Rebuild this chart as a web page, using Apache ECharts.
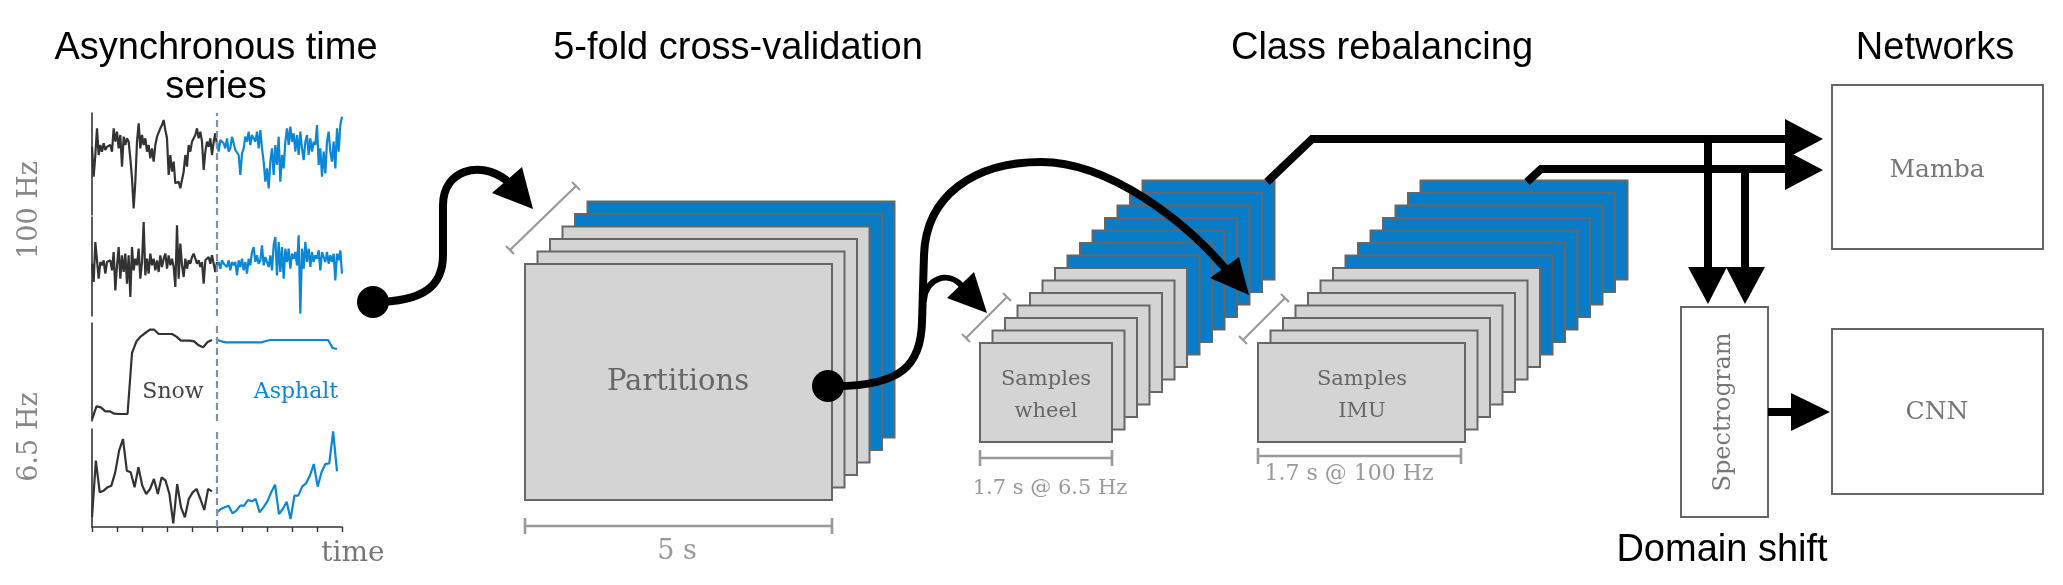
<!DOCTYPE html>
<html>
<head>
<meta charset="utf-8">
<script src="https://cdn.jsdelivr.net/npm/echarts@6/dist/echarts.min.js"></script>
<style>
  html, body { margin: 0; padding: 0; background: #fff; }
  #main { width: 2063px; height: 585px; }
</style>
</head>
<body>
<div id="main"></div>
<script>
// signal readings (arbitrary amplitude units), left half = snow, right half = asphalt
var imuA_snow = [195,105,170,250,170,200,180,205,185,195,190,200,180,250,210,240,190,230,135,225,200,220,210,160,100,10,90,210,265,190,230,200,220,180,200,160,190,150,200,225,230,250,260,275,245,220,110,170,120,150,85,80,90,70,75,120,170,135,200,180,210,220,230,250,220,240,210,125,180,210,195,220,170,210,235,200];
var imuA_asph = [210,180,215,220,205,190,220,180,190,225,205,185,190,170,110,175,190,225,210,240,200,230,235,210,240,190,245,190,150,90,130,70,150,190,110,200,140,225,90,170,130,210,250,200,255,210,235,180,230,170,240,190,155,210,230,170,220,180,210,200,260,140,190,105,180,115,210,240,180,150,210,130,250,180,260,285];
var imuB_snow = [165,110,230,225,120,170,160,175,135,170,170,175,145,200,85,160,215,120,190,140,195,105,190,65,215,145,180,160,210,120,170,290,130,180,135,195,160,180,145,175,140,190,155,180,195,150,190,160,180,155,95,280,120,225,160,125,180,150,175,165,185,195,190,165,175,155,170,105,175,170,185,165,190,195,140,170];
var imuB_asph = [160,170,150,175,165,170,155,175,145,170,160,170,130,175,155,180,145,170,135,180,160,200,215,170,190,165,175,220,160,185,170,155,190,145,220,245,130,230,140,215,120,210,170,210,150,195,180,200,160,250,15,210,150,230,170,210,155,200,170,190,180,205,145,200,185,170,200,165,190,170,195,115,195,175,205,135];
var whlA_snow = [15,55,52,40,40,33,32,32,32,215,250,265,275,285,285,272,272,272,272,264,252,252,252,250,238,232,248,254];
var whlA_asph = [255,250,247,247,247,247,247,247,247,247,247,251,254,254,254,254,254,254,254,254,254,254,254,254,254,254,230,227];
var whlB_snow = [40,210,115,120,130,135,175,240,275,180,175,130,190,135,110,125,155,110,160,150,110,22,140,70,40,95,115,125,95,62,125,118];
var whlB_asph = [55,65,70,75,52,60,75,75,92,88,95,55,70,88,115,138,50,65,87,35,105,105,132,142,165,200,132,175,200,202,298,178];

var yRanges = [[-10, 296], [8, 305], [11, 305], [11, 305]];
var timeTicks = 10;      // tick step on the time axis (0..100)
var switchTime = 50;     // surface change

var BLACK = '#333333', BLUE = '#0a87d6';
var BOX_BLUE = '#087cc6', BOX_GRAY = '#d4d4d4', EDGE = '#666666';

function toSeries(vals, t0, t1) {
  var dt = (t1 - t0) / (vals.length - 1);
  return vals.map(function (v, i) { return [t0 + i * dt, v]; });
}

var panels = [
  { top: 113, height: 102, snow: toSeries(imuA_snow, 0, 50),  asph: toSeries(imuA_asph, 50, 100) },
  { top: 217, height: 99,  snow: toSeries(imuB_snow, 0, 50),  asph: toSeries(imuB_asph, 50, 100) },
  { top: 323, height: 98,  snow: toSeries(whlA_snow, 0, 48),  asph: toSeries(whlA_asph, 50, 98) },
  { top: 429, height: 98,  snow: toSeries(whlB_snow, 0, 48),  asph: toSeries(whlB_asph, 50, 98) }
];

var grids = [], xAxes = [], yAxes = [], series = [];
panels.forEach(function (p, i) {
  var last = i === panels.length - 1;
  grids.push({ left: 92, width: 250, top: p.top, height: p.height, containLabel: false });
  xAxes.push({
    gridIndex: i, type: 'value', min: 0, max: 100, interval: timeTicks, show: last,
    axisLine: { show: true, onZero: false, lineStyle: { color: BLACK, width: 1.6 } },
    axisTick: { show: true, inside: false, length: 5, lineStyle: { color: BLACK, width: 1.4 } },
    axisLabel: { show: false }, splitLine: { show: false }
  });
  yAxes.push({
    gridIndex: i, type: 'value', min: yRanges[i][0], max: yRanges[i][1],
    axisLine: { show: true, onZero: false, lineStyle: { color: BLACK, width: 1.6 } },
    axisTick: { show: false }, axisLabel: { show: false }, splitLine: { show: false }
  });
  series.push({
    type: 'line', xAxisIndex: i, yAxisIndex: i, data: p.snow, showSymbol: false,
    lineStyle: { color: BLACK, width: 2.2 }, z: 3,
    markLine: {
      silent: true, symbol: ['none', 'none'], label: { show: false },
      lineStyle: { color: '#7d93aa', type: [7, 4], width: 2.2 },
      data: [{ xAxis: switchTime }]
    }
  });
  series.push({
    type: 'line', xAxisIndex: i, yAxisIndex: i, data: p.asph, showSymbol: false,
    lineStyle: { color: BLUE, width: 2.2 }, z: 3
  });
});

// ---------- diagram graphics ----------
var g = [];
function txt(s, x, y, font, color, rot) {
  g.push({ type: 'text', x: x, y: y, rotation: rot || 0, silent: true,
    style: { text: s, font: font, fill: color, align: 'center', verticalAlign: 'middle',
             textAlign: 'center', textVerticalAlign: 'middle' } });
}
function line(x1, y1, x2, y2, color, w) {
  g.push({ type: 'line', silent: true, shape: { x1: x1, y1: y1, x2: x2, y2: y2 },
    style: { stroke: color, lineWidth: w, lineCap: 'butt' } });
}
function curve(a, c1, c2, b, w) {
  g.push({ type: 'bezierCurve', silent: true,
    shape: { x1: a[0], y1: a[1], cpx1: c1[0], cpy1: c1[1], cpx2: c2[0], cpy2: c2[1], x2: b[0], y2: b[1] },
    style: { stroke: '#000', lineWidth: w, fill: 'none', lineCap: 'round' } });
}
function head(pts) {
  g.push({ type: 'polygon', silent: true, shape: { points: pts }, style: { fill: '#000', stroke: null } });
}
function dot(x, y) {
  g.push({ type: 'circle', silent: true, shape: { cx: x, cy: y, r: 16 }, style: { fill: '#000' } });
}
function box(x, y, w, h, fill) {
  g.push({ type: 'rect', silent: true, shape: { x: x, y: y, width: w, height: h },
    style: { fill: fill, stroke: EDGE, lineWidth: 2 } });
}
function stack(x0, y0, w, h, nGray, nBlue) {
  var n = nGray + nBlue;
  for (var k = n - 1; k >= 0; k--) {
    box(x0 + k * 12.5, y0 - k * 12.5, w, h, k < nGray ? BOX_GRAY : BOX_BLUE);
  }
}
function hbar(x1, x2, y) {
  line(x1, y, x2, y, '#999', 2.6);
  line(x1, y - 8, x1, y + 8, '#999', 2.6);
  line(x2, y - 8, x2, y + 8, '#999', 2.6);
}
function dbar(x1, y1, x2, y2) {
  line(x1, y1, x2, y2, '#999', 2.2);
  line(x1 - 4, y1 - 4, x1 + 4, y1 + 4, '#999', 2.2);
  line(x2 - 4, y2 - 4, x2 + 4, y2 + 4, '#999', 2.2);
}

var SANS = '38px "Liberation Sans", Arial, sans-serif';
function serif(px) { return px + 'px "DejaVu Serif", serif'; }

// titles
txt('Asynchronous time', 216, 49, SANS, '#000');
txt('series', 216, 88, SANS, '#000');
txt('5-fold cross-validation', 738, 49, SANS, '#000');
txt('Class rebalancing', 1382, 49, SANS, '#000');
txt('Networks', 1935, 49, SANS, '#000');
txt('Domain shift', 1722, 551, SANS, '#000');

// time-series labels
txt('100 Hz', 30, 210, serif(27), '#888', Math.PI / 2);
txt('6.5 Hz', 30, 437, serif(27), '#888', Math.PI / 2);
txt('Snow', 173, 392, serif(22), '#444');
txt('Asphalt', 296, 392, serif(22), BLUE);
txt('time', 353, 554, serif(28), '#777');

// stacks
stack(525, 264, 307, 236, 4, 2);
stack(980, 343, 132, 99, 7, 7);
stack(1258, 343, 207, 99, 7, 7);
txt('Partitions', 678, 382, serif(29), '#666');
txt('Samples', 1046, 380, serif(21), '#666');
txt('wheel', 1046, 412, serif(21), '#666');
txt('Samples', 1362, 380, serif(21), '#666');
txt('IMU', 1362, 412, serif(21), '#666');

// scale bars
dbar(510, 250, 576, 186);
hbar(525, 832, 526);
txt('5 s', 677, 552, serif(27), '#999');
dbar(966, 338, 1007, 297);
hbar(980, 1112, 458);
txt('1.7 s @ 6.5 Hz', 1050, 489, serif(21), '#999');
dbar(1243, 340, 1285, 298);
hbar(1258, 1461, 456);
txt('1.7 s @ 100 Hz', 1349, 474, serif(22), '#999');

// network boxes
box(1681, 307, 87, 210, '#fff');
box(1832, 85, 211, 164, '#fff');
box(1832, 329, 211, 165, '#fff');
txt('Spectrogram', 1724, 412, serif(24), '#777', Math.PI / 2);
txt('Mamba', 1937, 170, serif(25), '#777');
txt('CNN', 1937, 412, serif(25), '#777');

// arrow 1: series -> partitions
curve([373, 302], [425, 302], [443, 285], [443, 255], 8);
line(443, 255, 443, 205, '#000', 8);
curve([443, 205], [443, 170], [480, 160], [506, 180], 8);
head([[492, 193], [533, 209], [522, 167]]);
dot(373, 302);

// arrow 2: partitions -> samples
curve([828, 386], [905, 388], [921, 362], [922, 322], 8);
line(922, 322, 924, 255, '#000', 8);
curve([924, 255], [926, 195], [975, 162], [1041, 162], 8);
curve([1041, 162], [1110, 162], [1185, 222], [1224, 267], 8);
head([[1210, 278], [1249, 295], [1239, 257]]);
curve([924, 300], [926, 278], [948, 271], [961, 285], 6);
head([[947, 298], [987, 313], [974, 272]]);
dot(828, 386);

// feeds into networks
g.push({ type: 'polyline', silent: true, shape: { points: [[1267, 182], [1312, 139], [1790, 139]] },
  style: { stroke: '#000', lineWidth: 8, fill: 'none', lineJoin: 'miter' } });
g.push({ type: 'polyline', silent: true, shape: { points: [[1527, 182], [1541, 169], [1790, 169]] },
  style: { stroke: '#000', lineWidth: 8, fill: 'none', lineJoin: 'miter' } });
head([[1785, 119], [1823, 139], [1785, 159]]);
head([[1785, 150], [1823, 170], [1785, 190]]);
line(1708, 135, 1708, 270, '#000', 8);
line(1745, 165, 1745, 270, '#000', 8);
head([[1688, 267], [1727, 267], [1708, 304]]);
head([[1726, 267], [1765, 267], [1745, 304]]);
line(1768, 412, 1795, 412, '#000', 8);
head([[1791, 393], [1830, 412], [1791, 431]]);

var chart = echarts.init(document.getElementById('main'));
chart.setOption({
  animation: false,
  backgroundColor: '#fff',
  grid: grids,
  xAxis: xAxes,
  yAxis: yAxes,
  series: series,
  graphic: { elements: g }
});
</script>
</body>
</html>
